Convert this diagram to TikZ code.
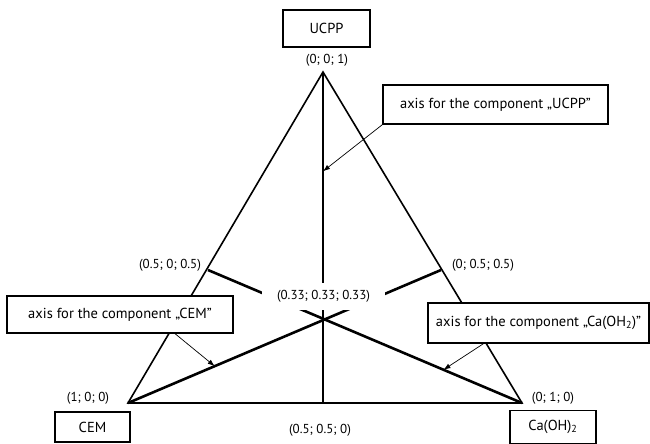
\documentclass[tikz,border=0pt]{standalone}
\usepackage{fontspec}
\setmainfont{PT Sans}
\usetikzlibrary{arrows.meta,calc}
\tikzset{
  box/.style={draw, line width=1.3pt, fill=white, inner sep=2pt,
    font=\fontsize{14.5}{16}\selectfont},
  axisline/.style={line width=2.6pt},
  edgeline/.style={line width=1.6pt},
  pointer/.style={line width=0.7pt, -{Latex[length=7pt,width=5pt]}}
}
\begin{document}
\begin{tikzpicture}[x=1pt,y=-1pt,font=\fontsize{13}{15}\selectfont]
\useasboundingbox (0,0) rectangle (650,444);
% corners of the diagram
\coordinate (top) at (323,72);
\coordinate (left) at (128,403);
\coordinate (right) at (522,403);
\coordinate (bot) at (323,403);
\coordinate (lmid) at (208,270);
\coordinate (rmid) at (441,270);
% triangle
\draw[edgeline] (left) -- (top) -- (right) -- cycle;
% the three axes
\draw[axisline] (top) -- (bot);
\draw[axisline] (left) -- (rmid);
\draw[axisline] (right) -- (lmid);
% centre label covers the crossing lines
\node[fill=white, minimum width=123pt, minimum height=27pt, inner sep=0pt]
  (mid) at (323.5,296.5) {(0.33; 0.33; 0.33)};
% vertex labels
\node (ucpp) [box, minimum width=87pt, minimum height=37pt] at (326.5,28.5) {UCPP};
\node (cem) [box, minimum width=75pt, minimum height=30pt] at (92.5,427) {CEM};
\node (caoh) [box, minimum width=86pt, minimum height=33pt] at (553,427)
  {Ca(OH)\textsubscript{2}};
\node (p001) at (327,60) {(0; 0; 1)};
\node (p100) at (88,398) {(1; 0; 0)};
\node (p010) at (553,398) {(0; 1; 0)};
\node (p505) at (170,265) {(0.5; 0; 0.5)};
\node (p055) at (483,265) {(0; 0.5; 0.5)};
\node (p550) at (320,430) {(0.5; 0.5; 0)};
% boxes naming the axes
\node (ucppaxis) [box, minimum width=225pt, minimum height=39pt] at (495.5,104.5)
  {axis for the component „UCPP”};
\node (cemaxis) [box, minimum width=226pt, minimum height=37pt] at (120,314.5)
  {axis for the component „CEM”};
\node (caaxis) [box, minimum width=221pt, minimum height=40pt] at (538.5,323)
  {axis for the component „Ca(OH\textsubscript{2})”};
% arrows to the axes
\coordinate (ua) at ($(top)!0.30!(bot)$);
\coordinate (ca) at ($(left)!0.277!(rmid)$);
\coordinate (ra) at ($(right)!0.25!(lmid)$);
\draw[pointer] (ucppaxis.south west) -- (ua);
\draw[pointer] ([xshift=55pt]cemaxis.south) -- (ca);
\draw[pointer] ([xshift=-55pt]caaxis.south) -- (ra);
\end{tikzpicture}
\end{document}
